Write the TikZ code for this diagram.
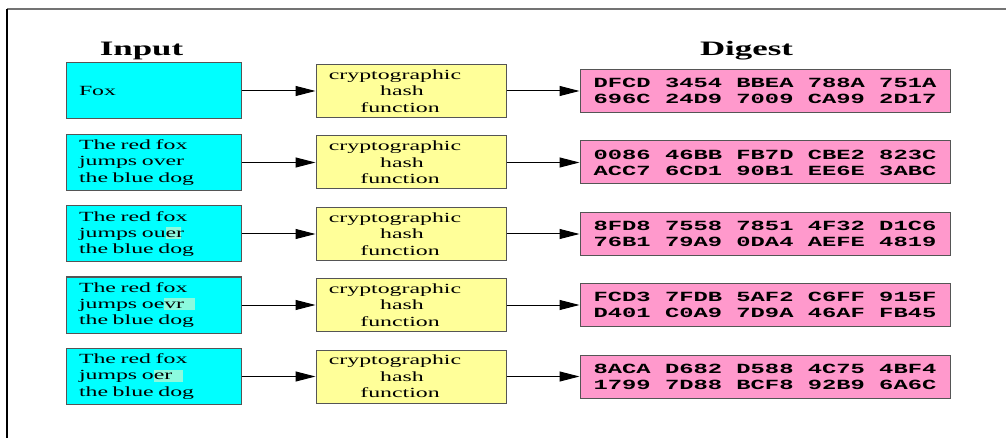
\documentclass[tikz,border=0pt]{standalone}
\usepackage{fontspec}
\usepackage{tikz}
\usetikzlibrary{arrows.meta}

\newfontfamily\boxfont{Liberation Serif}[FakeStretch=1.7]
\newfontfamily\hexfont{Liberation Mono}[FakeStretch=1.7]

\definecolor{infill}{RGB}{0,255,255}
\definecolor{fnfill}{RGB}{255,255,153}
\definecolor{digfill}{RGB}{255,153,204}
\definecolor{hl}{RGB}{140,250,222}
\definecolor{boxline}{RGB}{85,85,85}

% marked change in the input text
\newcommand{\chg}[2]{\rlap{\color{hl}\rule[-2pt]{#1}{12pt}}#2}
% text of the hash boxes, set a little left of centre
\newcommand{\fntext}{\hspace*{-32pt}cryptographic\\\hspace*{-18pt}hash\\\hspace*{-22pt}function}

\begin{document}
\begin{tikzpicture}[x=1pt,y=1pt,
    inbox/.style={draw=boxline,line width=1pt,fill=infill,minimum height=56pt,
        text width=149pt,inner xsep=13pt,align=left,
        font=\boxfont\fontsize{14}{16.4}\selectfont},
    fnbox/.style={draw=boxline,line width=1pt,fill=fnfill,minimum width=190pt,
        minimum height=53pt,align=center,inner sep=0pt,
        font=\boxfont\fontsize{14}{16.4}\selectfont},
    digbox/.style={draw=boxline,line width=1pt,fill=digfill,minimum width=370pt,
        minimum height=43pt,align=center,inner sep=0pt,
        font=\hexfont\bfseries\fontsize{14}{16}\selectfont},
    head/.style={anchor=base,inner sep=0pt,font=\boxfont\bfseries\fontsize{20.5}{24}\selectfont},
    conn/.style={line width=1pt,-{Triangle[length=20pt,width=10pt]}}]
    \useasboundingbox (0,0) rectangle (1006,-438);
    % frame
    \draw [black!55,line width=1.5pt] (7,-9) -- (1006,-9);
    \draw [black,line width=1.5pt] (7,-9) -- (7,-438);
    % headings
    \node [head] (inhead) at (141.5,-55.7) {Input};
    \node [head] (dighead) at (746.5,-55.7) {Digest};
    % inputs
    \node [inbox] (in1) at (153.5,-91) {Fox};
    \node [inbox] (in2) at (153.5,-162.5) {The red fox\\jumps over\\the blue dog};
    \node [inbox] (in3) at (153.5,-234) {The red fox\\jumps ou\chg{15pt}{er}\\the blue dog};
    \node [inbox] (in4) at (153.5,-305) {The red fox\\jumps oe\chg{31pt}{vr}\\the blue dog};
    \node [inbox] (in5) at (153.5,-376.5) {The red fox\\jumps o\chg{29pt}{er}\\the blue dog};
    % hash functions
    \node [fnbox] (fn1) at (411,-91) {\fntext};
    \node [fnbox] (fn2) at (411,-162.5) {\fntext};
    \node [fnbox] (fn3) at (411,-234) {\fntext};
    \node [fnbox] (fn4) at (411,-305) {\fntext};
    \node [fnbox] (fn5) at (411,-376.5) {\fntext};
    % digests
    \node [digbox] (dig1) at (765,-91) {DFCD 3454 BBEA 788A 751A\\696C 24D9 7009 CA99 2D17};
    \node [digbox] (dig2) at (765,-162.5) {0086 46BB FB7D CBE2 823C\\ACC7 6CD1 90B1 EE6E 3ABC};
    \node [digbox] (dig3) at (765,-234) {8FD8 7558 7851 4F32 D1C6\\76B1 79A9 0DA4 AEFE 4819};
    \node [digbox] (dig4) at (765,-305) {FCD3 7FDB 5AF2 C6FF 915F\\D401 C0A9 7D9A 46AF FB45};
    \node [digbox] (dig5) at (765,-376.5) {8ACA D682 D588 4C75 4BF4\\1799 7D88 BCF8 92B9 6A6C};
    % connectors
    \draw [conn] (in1) -- (fn1);
    \draw [conn] (in2) -- (fn2);
    \draw [conn] (in3) -- (fn3);
    \draw [conn] (in4) -- (fn4);
    \draw [conn] (in5) -- (fn5);
    \draw [conn] (fn1) -- (dig1);
    \draw [conn] (fn2) -- (dig2);
    \draw [conn] (fn3) -- (dig3);
    \draw [conn] (fn4) -- (dig4);
    \draw [conn] (fn5) -- (dig5);
\end{tikzpicture}
\end{document}
